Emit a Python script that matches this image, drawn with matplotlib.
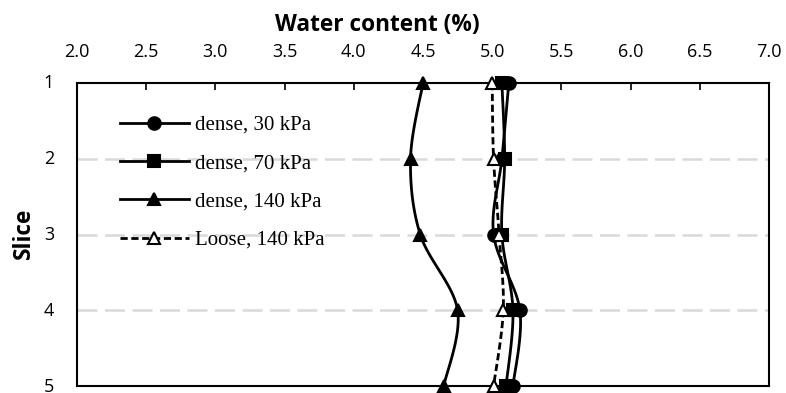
import numpy as np
import matplotlib
matplotlib.use("Agg")
import matplotlib.pyplot as plt
import matplotlib.transforms as mtransforms
from matplotlib.lines import Line2D

slices = [1, 2, 3, 4, 5]
dense_30 = [5.12, 5.07, 5.01, 5.20, 5.15]
dense_70 = [5.07, 5.09, 5.07, 5.15, 5.10]
dense_140 = [4.50, 4.41, 4.48, 4.75, 4.65]
loose_140 = [5.00, 5.01, 5.05, 5.08, 5.01]
labels = ["dense, 30 kPa", "dense, 70 kPa", "dense, 140 kPa", "Loose, 140 kPa"]
x_ticks = [2.0, 2.5, 3.0, 3.5, 4.0, 4.5, 5.0, 5.5, 6.0, 6.5, 7.0]


def smooth(xs, ys, n=30):
    # Bezier smoothing like spreadsheet "smoothed line"
    P = np.column_stack([xs, ys]).astype(float)
    Pe = np.vstack([P[0], P, P[-1]])
    out = []
    t = np.linspace(0, 1, n)[:, None]
    for i in range(1, len(Pe) - 2):
        p0, p1, p2, p3 = Pe[i - 1], Pe[i], Pe[i + 1], Pe[i + 2]
        c1 = p1 + (p2 - p0) / 6.0
        c2 = p2 - (p3 - p1) / 6.0
        seg = ((1 - t) ** 3) * p1 + 3 * ((1 - t) ** 2) * t * c1 + 3 * (1 - t) * t ** 2 * c2 + t ** 3 * p2
        out.append(seg if i == 1 else seg[1:])
    out = np.vstack(out)
    return out[:, 0], out[:, 1]


fig = plt.figure(figsize=(7.86, 3.93), dpi=100)
ax = fig.add_axes([77 / 786, 1 - 386 / 393, (769 - 77) / 786, (386 - 83) / 393])

series = [
    (dense_30, dict(marker="o", mfc="black", ls="-")),
    (dense_70, dict(marker="s", mfc="black", ls="-")),
    (dense_140, dict(marker="^", mfc="black", ls="-")),
    (loose_140, dict(marker="^", mfc="white", ls=(0, (2.6, 1.3)))),
]
msizes = {"o": 9, "s": 8, "^": 8.5}
handles = []
for vals, st in series:
    sx, sy = smooth(vals, slices)
    ax.plot(sx, sy, color="black", lw=2.0, ls=st["ls"], zorder=3, clip_on=False)
    ax.plot(vals, slices, ls="none", marker=st["marker"], ms=msizes[st["marker"]],
            mfc=st["mfc"], mec="black", mew=1.5, zorder=4, clip_on=False)
    handles.append(Line2D([], [], color="black", lw=2.0, ls=st["ls"], marker=st["marker"],
                          ms=msizes[st["marker"]], mfc=st["mfc"], mec="black", mew=1.5))

tick_font = dict(fontfamily="Open Sans", fontsize=13)
ax.set_xlim(2.0, 7.0)
ax.set_ylim(5, 1)
ax.xaxis.tick_top()
ax.xaxis.set_label_position("top")
ax.set_xticks(x_ticks)
ax.set_xticklabels([f"{v:.1f}" for v in x_ticks], **tick_font)
ax.set_yticks(slices)
ax.set_yticklabels([str(s) for s in slices], **tick_font)
ax.tick_params(axis="x", direction="in", length=5, width=1.2, pad=16, top=True, bottom=False)
ax.tick_params(axis="y", length=0, width=0, pad=16.5)
shift = mtransforms.ScaledTranslation(0, 1.5 / 100, fig.dpi_scale_trans)
for lbl in ax.get_yticklabels():
    lbl.set_transform(lbl.get_transform() + shift)
for s in ax.spines.values():
    s.set_linewidth(1.5)
    s.set_color("black")
for yv in slices[1:-1]:
    ax.axhline(yv, color="#d9d9d9", lw=1.8, ls=(0, (8, 3)), zorder=1)

ax.set_xlabel("Water content (%)", fontfamily="Open Sans", fontweight="bold", fontsize=16.3)
ax.set_ylabel("Slice", fontfamily="Open Sans", fontweight="bold", fontsize=16.3)
ax.xaxis.set_label_coords(0.4335, 1.172)
ax.yaxis.set_label_coords(-0.059, 0.505)

leg = ax.legend(handles, labels, loc="upper left", bbox_to_anchor=(0.062, 0.893), frameon=False,
                prop={"family": "Liberation Serif", "size": 15}, handlelength=3.3,
                handletextpad=0.3, labelspacing=0.9, borderpad=0, borderaxespad=0)

fig.savefig("out.png", dpi=100)
